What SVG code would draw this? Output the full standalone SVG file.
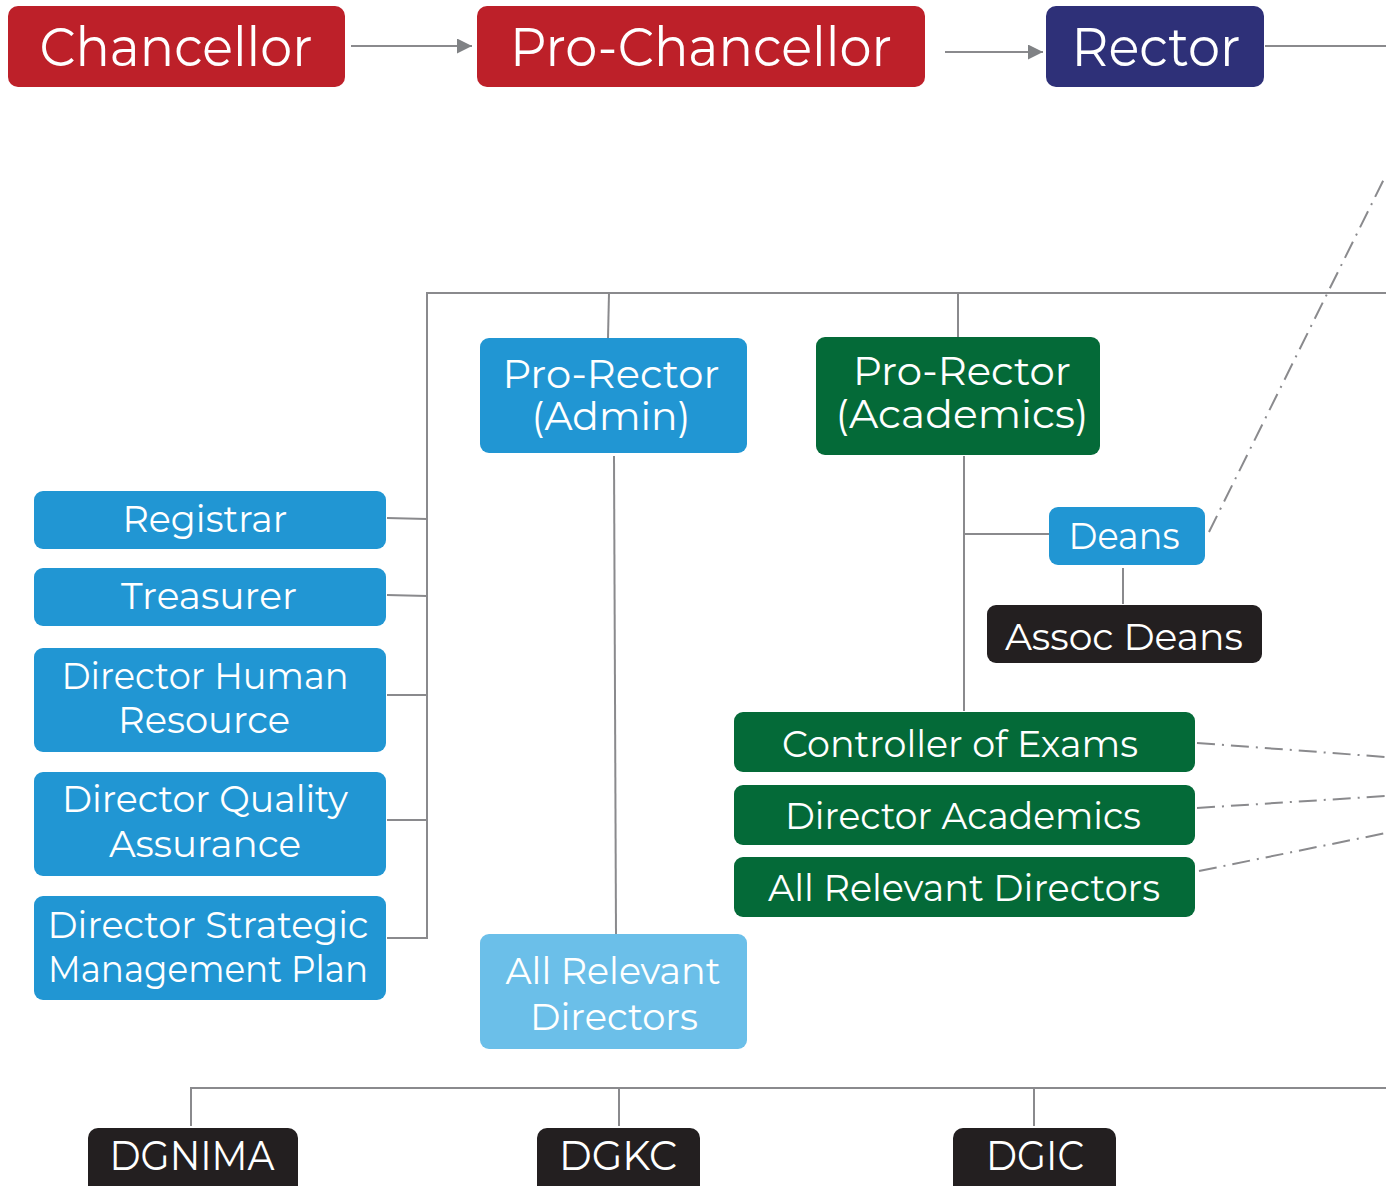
<svg xmlns="http://www.w3.org/2000/svg" width="1386" height="1186" viewBox="0 0 1386 1186">
<defs>
<style>
.t{font-family:"Montserrat","Liberation Sans","DejaVu Sans",sans-serif;fill:#fff;text-anchor:middle}
.big{font-size:54px}
.mid{font-size:42px}
.pr{font-size:39px}
.sm{font-size:38px}
.c{stroke:#8a8a8d;stroke-width:2;fill:none}
.d{stroke:#8a8a8d;stroke-width:2;fill:none;stroke-dasharray:18 7 2 7}
</style>
<marker id="ah" viewBox="0 0 10 10" refX="10" refY="5" markerWidth="15" markerHeight="15" markerUnits="userSpaceOnUse" orient="auto">
<path d="M0,0 L10,5 L0,10 z" fill="#808285"/>
</marker>
</defs>
<rect width="1386" height="1186" fill="#fff"/>
<g id="connectors">
<line class="c" x1="351" y1="46" x2="472" y2="46" marker-end="url(#ah)"/>
<line class="c" x1="945" y1="52" x2="1043" y2="52" marker-end="url(#ah)"/>
<line class="c" x1="1265" y1="46" x2="1386" y2="46"/>
<polyline class="c" points="1386,293 427,293 427,938 387,938"/>
<line class="c" x1="609" y1="293" x2="608" y2="338"/>
<line class="c" x1="958" y1="293" x2="958" y2="337"/>
<line class="c" x1="387" y1="518" x2="427" y2="519"/>
<line class="c" x1="387" y1="595" x2="427" y2="596"/>
<line class="c" x1="387" y1="695" x2="427" y2="695"/>
<line class="c" x1="387" y1="820" x2="427" y2="820"/>
<line class="c" x1="614" y1="456" x2="616" y2="935"/>
<line class="c" x1="964" y1="456" x2="964" y2="711"/>
<line class="c" x1="964" y1="534" x2="1049" y2="534"/>
<line class="c" x1="1123" y1="568" x2="1123" y2="604"/>
<line class="d" x1="1209" y1="532" x2="1386" y2="175"/>
<line class="d" x1="1197" y1="743" x2="1386" y2="757"/>
<line class="d" x1="1197" y1="808" x2="1386" y2="796"/>
<line class="d" x1="1199" y1="871" x2="1386" y2="833"/>
<polyline class="c" points="191,1126 191,1088 1386,1088"/>
<line class="c" x1="619" y1="1088" x2="619" y2="1126"/>
<line class="c" x1="1034" y1="1088" x2="1034" y2="1126"/>
</g>
<g id="chancellor"><rect x="8" y="6" width="337" height="81" rx="10" fill="#BD2029"/><text class="t big" x="176" y="66" textLength="273" lengthAdjust="spacingAndGlyphs">Chancellor</text></g>
<g id="pro-chancellor"><rect x="477" y="6" width="448" height="81" rx="10" fill="#BD2029"/><text class="t big" x="701" y="66" textLength="382" lengthAdjust="spacingAndGlyphs">Pro-Chancellor</text></g>
<g id="rector"><rect x="1046" y="6" width="218" height="81" rx="10" fill="#2E3078"/><text class="t big" x="1156" y="66" textLength="169" lengthAdjust="spacingAndGlyphs">Rector</text></g>
<g id="pro-rector-admin"><rect x="480" y="338" width="267" height="115" rx="9" fill="#2196D3"/><text class="t pr" x="611" y="388" textLength="217" lengthAdjust="spacingAndGlyphs">Pro-Rector</text><text class="t pr" x="611" y="430" textLength="159" lengthAdjust="spacingAndGlyphs">(Admin)</text></g>
<g id="pro-rector-academics"><rect x="816" y="337" width="284" height="118" rx="9" fill="#046A38"/><text class="t pr" x="962" y="385" textLength="218" lengthAdjust="spacingAndGlyphs">Pro-Rector</text><text class="t pr" x="962" y="428" textLength="253" lengthAdjust="spacingAndGlyphs">(Academics)</text></g>
<g id="registrar"><rect x="34" y="491" width="352" height="58" rx="9" fill="#2196D3"/><text class="t sm" x="205" y="532" textLength="165" lengthAdjust="spacingAndGlyphs">Registrar</text></g>
<g id="treasurer"><rect x="34" y="568" width="352" height="58" rx="9" fill="#2196D3"/><text class="t sm" x="209" y="609" textLength="176" lengthAdjust="spacingAndGlyphs">Treasurer</text></g>
<g id="director-hr"><rect x="34" y="648" width="352" height="104" rx="9" fill="#2196D3"/><text class="t sm" x="205" y="689" textLength="287" lengthAdjust="spacingAndGlyphs">Director Human</text><text class="t sm" x="204" y="733" textLength="172" lengthAdjust="spacingAndGlyphs">Resource</text></g>
<g id="director-qa"><rect x="34" y="772" width="352" height="104" rx="9" fill="#2196D3"/><text class="t sm" x="205" y="812" textLength="286" lengthAdjust="spacingAndGlyphs">Director Quality</text><text class="t sm" x="205" y="857" textLength="192" lengthAdjust="spacingAndGlyphs">Assurance</text></g>
<g id="director-smp"><rect x="34" y="896" width="352" height="104" rx="9" fill="#2196D3"/><text class="t sm" x="208" y="938" textLength="321" lengthAdjust="spacingAndGlyphs">Director Strategic</text><text class="t sm" x="208" y="982" textLength="320" lengthAdjust="spacingAndGlyphs">Management Plan</text></g>
<g id="all-relevant-directors-admin"><rect x="480" y="934" width="267" height="115" rx="9" fill="#6BBFE9"/><text class="t sm" x="613" y="984" textLength="215" lengthAdjust="spacingAndGlyphs">All Relevant</text><text class="t sm" x="614" y="1030" textLength="168" lengthAdjust="spacingAndGlyphs">Directors</text></g>
<g id="deans"><rect x="1049" y="507" width="156" height="58" rx="9" fill="#2196D3"/><text class="t sm" x="1124" y="549" textLength="111" lengthAdjust="spacingAndGlyphs">Deans</text></g>
<g id="assoc-deans"><rect x="987" y="605" width="275" height="58" rx="9" fill="#231F20"/><text class="t sm" x="1124" y="650" textLength="238" lengthAdjust="spacingAndGlyphs">Assoc Deans</text></g>
<g id="controller-exams"><rect x="734" y="712" width="461" height="60" rx="9" fill="#046A38"/><text class="t sm" x="960" y="757" textLength="356" lengthAdjust="spacingAndGlyphs">Controller of Exams</text></g>
<g id="director-academics"><rect x="734" y="785" width="461" height="60" rx="9" fill="#046A38"/><text class="t sm" x="963" y="829" textLength="356" lengthAdjust="spacingAndGlyphs">Director Academics</text></g>
<g id="all-relevant-directors-academics"><rect x="734" y="857" width="461" height="60" rx="9" fill="#046A38"/><text class="t sm" x="964" y="901" textLength="392" lengthAdjust="spacingAndGlyphs">All Relevant Directors</text></g>
<g id="dgnima"><rect x="88" y="1128" width="210" height="70" rx="10" fill="#231F20"/><text class="t mid" x="192" y="1170" textLength="165" lengthAdjust="spacingAndGlyphs">DGNIMA</text></g>
<g id="dgkc"><rect x="537" y="1128" width="163" height="70" rx="10" fill="#231F20"/><text class="t mid" x="618" y="1170" textLength="118" lengthAdjust="spacingAndGlyphs">DGKC</text></g>
<g id="dgic"><rect x="953" y="1128" width="163" height="70" rx="10" fill="#231F20"/><text class="t mid" x="1035" y="1170" textLength="98" lengthAdjust="spacingAndGlyphs">DGIC</text></g>
</svg>
